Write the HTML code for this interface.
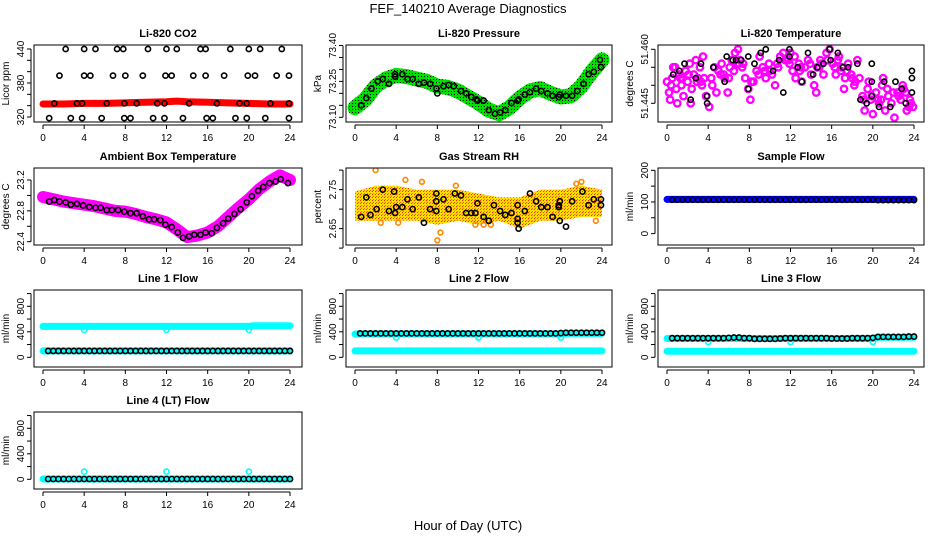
<!DOCTYPE html>
<html><head><meta charset="utf-8">
<style>
body{margin:0;background:#fff;}
svg{display:block;font-family:"Liberation Sans",Arial,sans-serif;}
</style></head>
<body>
<svg id="chart" width="936" height="540" viewBox="0 0 936 540">
<defs>
<pattern id="pGreen" width="3" height="3" patternUnits="userSpaceOnUse"><rect width="3" height="3" fill="#00e000"/><rect x="1" y="1" width="1" height="1" fill="#000"/></pattern>
<pattern id="pYellow" width="3" height="3" patternUnits="userSpaceOnUse"><rect width="3" height="3" fill="#ffdd00"/><rect x="1" y="1" width="1" height="1" fill="#ff6a00"/><rect x="0" y="2" width="1" height="1" fill="#ff3000"/></pattern>
</defs>
<text x="468" y="13" text-anchor="middle" font-size="13">FEF_140210  Average Diagnostics</text>
<text x="468" y="530" text-anchor="middle" font-size="13">Hour of Day (UTC)</text>
</svg>
<script>
// ---------- data ----------
const co2BandH=[0,2,4,6,8,10,12,13,14,16,18,20,22,24];
const co2BandV=[343,343,344,344,345,346,347,348,347,346,345,344,343,343];
const co2BlackH=[2.2,4,5.1,7.2,7.8,10.2,12,13,15.3,15.8,18.2,20,21.1,23.2,1.6,4,4.6,6.8,8,9.7,11.9,12.5,14.6,15.8,17.6,19.9,20.6,22.7,23.9,1.1,3.3,3.8,6.2,7.9,9.1,11.1,11.8,14.2,16.9,19.1,19.8,22.1,23.9,0.6,2.7,3.8,5.7,7.9,8.5,10.7,11.8,13.6,15.9,16.5,18.7,19.8,21.6,23.9];
const co2BlackV=[440,440,440,440,440,440,440,440,440,440,440,440,440,440,393,393,393,393,393,393,393,393,393,393,393,393,393,393,393,344,344,344,344,344,344,344,344,344,344,344,344,344,344,318,318,318,318,318,318,318,318,318,318,318,318,318,318,318];

const presBandH=[0,1,2,3,4,5,6,7,8,9,10,11,12,13,14,15,16,17,18,19,20,21,22,23,24];
const presBandV=[73.14,73.175,73.23,73.26,73.275,73.27,73.26,73.25,73.23,73.225,73.21,73.185,73.16,73.13,73.115,73.14,73.18,73.21,73.22,73.2,73.185,73.19,73.23,73.29,73.34];
const presBlackH=[0.6,1.1,1.6,2.2,2.7,3.3,3.9,3.9,4.6,5.1,5.6,6.2,6.7,7.3,7.9,8,8.6,9.1,9.6,10.3,10.8,11.3,11.8,11.9,12.5,13,13.6,14.1,14.6,15.2,15.8,15.9,16.5,17,17.6,18.1,18.7,19.2,19.8,19.9,20.5,21.1,21.6,22.2,22.7,23.2,23.8,23.9];
const presBlackV=[73.15,73.18,73.22,73.25,73.26,73.24,73.28,73.27,73.28,73.26,73.26,73.24,73.245,73.24,73.22,73.20,73.23,73.235,73.23,73.21,73.20,73.185,73.175,73.17,73.17,73.13,73.115,73.12,73.13,73.16,73.17,73.175,73.195,73.205,73.22,73.21,73.20,73.19,73.185,73.195,73.19,73.19,73.21,73.24,73.28,73.29,73.34,73.31];

const tempMagH=[0,0.2,0.3,0.5,0.8,0.9,1.2,1.4,1.6,1.8,2.0,2.2,2.4,2.6,2.8,3.0,3.2,3.4,3.6,3.8,4.1,4.3,4.6,4.8,5.0,5.3,5.6,5.9,6.1,6.3,6.6,6.9,7.1,7.3,7.6,7.9,8.1,8.4,8.7,9.0,9.3,9.6,9.9,10.2,10.5,10.8,11.0,11.3,11.6,11.9,12.2,12.5,12.8,13.1,13.4,13.7,14.0,14.3,14.6,14.9,15.2,15.5,15.8,16.1,16.4,16.7,17.0,17.3,17.6,17.9,18.2,18.5,18.7,19.0,19.2,19.5,19.8,20.0,20.3,20.6,20.9,21.2,21.5,21.8,22.1,22.4,22.7,23.0,23.3,23.6,23.9,0.6,1.0,2.3,3.5,6.0,8.2,12.0,14.5,17.2,19.6,21.0,22.9,1.5,5.2,7.0,9.5,11.5,13.0,15.0,16.9,18.3,20.5,22.0,23.5,0.4,1.3,2.1,2.9,4.4,5.5,6.5,7.4,8.9,10.0,10.7,11.8,12.9,13.9,14.8,15.6,16.3,17.5,18.0,19.1,19.9,20.8,21.4,22.5,23.2,23.7,3.3,6.8,12.4,16.6];
const tempMagV=[51.451,51.448,51.446,51.452,51.455,51.449,51.453,51.450,51.447,51.454,51.451,51.456,51.449,51.453,51.457,51.452,51.455,51.450,51.452,51.447,51.444,51.452,51.455,51.448,51.454,51.456,51.452,51.448,51.455,51.457,51.459,51.460,51.457,51.455,51.452,51.449,51.446,51.451,51.454,51.458,51.455,51.452,51.456,51.453,51.450,51.455,51.458,51.459,51.457,51.456,51.454,51.452,51.456,51.451,51.455,51.457,51.453,51.450,51.455,51.457,51.453,51.459,51.460,51.456,51.453,51.458,51.455,51.452,51.456,51.453,51.450,51.457,51.452,51.447,51.443,51.449,51.446,51.442,51.448,51.445,51.450,51.443,51.447,51.445,51.441,51.448,51.446,51.449,51.443,51.446,51.444,51.455,51.445,51.445,51.458,51.452,51.451,51.459,51.448,51.449,51.451,51.452,51.450,51.452,51.453,51.456,51.454,51.457,51.455,51.456,51.454,51.451,51.446,51.448,51.444,51.450,51.452,51.453,51.451,51.450,51.453,51.454,51.456,51.453,51.454,51.456,51.457,51.454,51.456,51.455,51.457,51.455,51.454,51.452,51.446,51.447,51.446,51.449,51.447,51.448,51.445,51.451,51.456,51.458,51.457];
const tempBlackH=[0.6,1.2,1.7,2.3,2.8,3.3,3.9,3.9,4.5,5.6,5.8,6.4,6.7,7.2,7.9,7.9,8.5,9.1,9.6,10.3,10.9,11.3,11.9,11.9,12.7,13.1,13.7,14.2,14.6,15.2,15.8,15.9,16.6,17.1,17.6,18.5,18.8,19.4,19.9,19.9,19.9,20.6,21.1,21.7,22.2,22.8,23.2,23.8,23.8,23.8];
const tempBlackV=[51.453,51.454,51.456,51.446,51.452,51.456,51.445,51.447,51.455,51.451,51.458,51.457,51.457,51.457,51.449,51.458,51.456,51.459,51.460,51.454,51.457,51.448,51.458,51.460,51.455,51.451,51.459,51.453,51.455,51.456,51.460,51.457,51.459,51.455,51.455,51.456,51.446,51.445,51.447,51.456,51.451,51.444,51.451,51.444,51.451,51.449,51.445,51.452,51.454,51.448];

const ambBandH=[0,1,2,3,4,5,6,7,8,9,10,11,12,13,14,15,16,17,18,19,20,21,22,23,24];
const ambBandV=[22.98,22.95,22.92,22.9,22.88,22.86,22.83,22.8,22.79,22.76,22.72,22.69,22.65,22.56,22.46,22.48,22.52,22.6,22.72,22.84,22.95,23.08,23.18,23.26,23.2];
const ambBlackH=[0.6,1.1,1.6,2.2,2.7,3.3,3.9,4.5,5.1,5.6,6.2,6.7,7.3,7.9,8.5,9.1,9.7,10.3,10.8,11.4,11.9,12.5,13.1,13.6,14.2,14.7,15.3,15.8,16.4,16.9,17.5,18.0,18.6,19.2,19.8,20.3,20.9,21.4,22.0,22.6,23.1,23.8];
const ambBlackV=[22.92,22.94,22.92,22.91,22.88,22.89,22.87,22.85,22.84,22.84,22.81,22.81,22.81,22.79,22.77,22.77,22.73,22.69,22.69,22.68,22.62,22.59,22.52,22.45,22.47,22.49,22.49,22.52,22.51,22.58,22.64,22.70,22.76,22.82,22.91,22.99,23.06,23.11,23.16,23.18,23.21,23.16];

const rhBandH=[0,2,4,6,8,10,12,14,16,18,20,22,24];
const rhBandLo=[2.67,2.67,2.67,2.67,2.66,2.67,2.66,2.67,2.65,2.67,2.67,2.68,2.68];
const rhBandHi=[2.745,2.76,2.76,2.75,2.75,2.75,2.74,2.73,2.73,2.75,2.75,2.76,2.75];
const rhOrangeH=[2,8,8.3,4.9,11.7,22,23.4,2.5,6.5,9.8,12.5,21.5,4.2,13.2];
const rhOrangeV=[2.80,2.62,2.64,2.775,2.66,2.77,2.67,2.665,2.77,2.76,2.66,2.765,2.665,2.66];
const rhBlackH=[0.6,1.1,1.5,2.1,2.7,3.3,3.8,3.9,4,4.6,5.1,5.6,6.2,6.7,7.3,7.9,7.9,7.9,8.6,9.1,9.7,10.3,10.8,11.3,11.7,11.9,12.5,13.0,13.5,14.1,14.6,15.2,15.8,15.8,15.8,15.9,16.5,17.0,17.6,18.1,18.7,19.2,19.8,19.8,19.9,19.9,20.5,21.1,22.1,22.7,23.2,23.9,23.9];
const rhBlackV=[2.68,2.73,2.685,2.70,2.75,2.695,2.745,2.69,2.705,2.705,2.725,2.70,2.73,2.665,2.70,2.74,2.72,2.695,2.725,2.70,2.74,2.735,2.69,2.69,2.69,2.715,2.68,2.67,2.71,2.695,2.685,2.69,2.675,2.665,2.71,2.65,2.695,2.74,2.72,2.705,2.705,2.68,2.705,2.71,2.72,2.67,2.655,2.72,2.745,2.71,2.725,2.725,2.71];

const sfBandH=[0,24];
const sfBandV=[108,108];
const halfHours=[0.5,1,1.5,2,2.5,3,3.5,4,4.5,5,5.5,6,6.5,7,7.5,8,8.5,9,9.5,10,10.5,11,11.5,12,12.5,13,13.5,14,14.5,15,15.5,16,16.5,17,17.5,18,18.5,19,19.5,20,20.5,21,21.5,22,22.5,23,23.5,24];
const sfBlackV=[107,107,107,107,107,107,107,107,107,107,107,107,107,107,107,107,107,107,107,107,107,107,107,107,107,107,107,107,107,107,107,107,107,107,107,107,107,107,107,107,106,106,106,106,106,106,106,106];

const l1BandH=[0,20,20.5,24];
const l1BandV=[485,485,495,495];
const l1LowV=[100,100];
const l1DipH=[4,12,20];
const l1DipV=[430,430,430];
const l1BlackV=[100,100,100,100,100,100,100,100,100,100,100,100,100,100,100,100,100,100,100,100,100,100,100,100,100,100,100,100,100,100,100,100,100,100,100,100,100,100,100,100,100,100,100,100,100,100,100,100];

const l2BandH=[0,20,20.5,24];
const l2BandV=[365,365,375,375];
const l2LowV=[100,100];
const l2DipH=[4,12,20];
const l2DipV=[310,310,310];
const l2BlackV=[375,375,375,375,375,375,375,375,375,375,375,375,375,375,375,375,375,375,375,375,375,375,375,375,375,375,375,375,375,375,375,375,375,375,375,375,375,375,375,380,385,385,385,385,385,385,385,385];

const l3BandH=[0,20,20.5,24];
const l3BandV=[295,295,315,315];
const l3LowV=[95,95];
const l3DipH=[4,12,20];
const l3DipV=[240,240,240];
const l3BlackV=[300,300,300,300,300,300,300,300,300,300,300,305,310,310,300,300,290,290,290,290,290,295,300,300,300,300,300,300,300,300,300,295,295,295,295,300,300,300,300,305,320,320,320,320,320,320,325,325];

const l4BandH=[0,24];
const l4BandV=[5,5];
const l4DipH=[4,12,20];
const l4DipV=[120,120,120];
const l4BlackV=[5,5,5,5,5,5,5,5,5,5,5,5,5,5,5,5,5,5,5,5,5,5,5,5,5,5,5,5,5,5,5,5,5,5,5,5,5,5,5,5,5,5,5,5,5,5,5,5];

const xTicks=[0,4,8,12,16,20,24];

// ---------- drawing ----------
const NS='http://www.w3.org/2000/svg';
const svg=document.getElementById('chart');
const L=[34,346,658],R=[302,612,924],X0=[43,355,667],X24=[290,602,914];
const T=[45,168,290,412],H=77;
function mk(tag,attrs,parent){const e=document.createElementNS(NS,tag);for(const k in attrs)e.setAttribute(k,attrs[k]);(parent||svg).appendChild(e);return e;}

function panel(cfg){
  const g=mk('g',{});
  
  
  const c=cfg.col,top=T[cfg.row];
  const sx=h=>X0[c]+(X24[c]-X0[c])*h/24;
  const sy=v=>top+cfg.m[1]+(v-cfg.m[0])*(cfg.m[3]-cfg.m[1])/(cfg.m[2]-cfg.m[0]);
  const bot=top+H;
  const clipId='clip-'+cfg.name;
  const cp=mk('clipPath',{id:clipId},g);mk('rect',{x:L[c],y:top,width:R[c]-L[c],height:H},cp);
  const plot=mk('g',{'clip-path':'url(#'+clipId+')'},g);
  
  
  cfg.draw(plot,sx,sy);
  const box=mk('rect',{x:L[c],y:top,width:R[c]-L[c],height:H,fill:'none',stroke:'#000','stroke-width':1},g);
  
  
  const xa=mk('g',{},g);
  
  
  const ay=bot+3;
  mk('line',{x1:sx(0),x2:sx(24),y1:ay,y2:ay,stroke:'#000'},xa);
  xTicks.forEach(t=>{mk('line',{x1:sx(t),x2:sx(t),y1:ay,y2:ay+4,stroke:'#000'},xa);
    const tx=mk('text',{x:sx(t),y:bot+19,'text-anchor':'middle','font-size':10},xa);tx.textContent=t;});
  const ya=mk('g',{},g);
  
  
  const axx=L[c]-3;
  mk('line',{x1:axx,x2:axx,y1:sy(cfg.yt[0]),y2:sy(cfg.yt[cfg.yt.length-1]),stroke:'#000'},ya);
  cfg.yt.forEach(v=>mk('line',{x1:axx-4,x2:axx,y1:sy(v),y2:sy(v),stroke:'#000'},ya));
  cfg.yl.forEach(v=>{const yy=sy(v);const tx=mk('text',{x:axx-7,y:yy,'text-anchor':'middle','font-size':10,transform:`rotate(-90 ${axx-7} ${yy})`},ya);tx.textContent=cfg.fmt?cfg.fmt(v):v;});
  const yt=mk('text',{x:L[c]-25,y:top+H/2,'text-anchor':'middle','font-size':10,transform:`rotate(-90 ${L[c]-25} ${top+H/2})`},g);
  yt.textContent=cfg.ylab;
  
  
  const tt=mk('text',{x:(L[c]+R[c])/2,y:top-8,'text-anchor':'middle','font-size':11,'font-weight':'bold'},g);
  tt.textContent=cfg.title;
  
  
}
function band(p,sx,sy,hs,vs,col,w,name){
  const pl=mk('polyline',{points:hs.map((h,i)=>sx(h)+','+sy(vs[i])).join(' '),fill:'none',stroke:col,'stroke-width':w,'stroke-linejoin':'round','stroke-linecap':'round'},p);
  
  
}
function area(p,sx,sy,hs,lo,hi,fill,name){
  const pts=hs.map((h,i)=>sx(h)+','+sy(hi[i])).concat(hs.slice().reverse().map((h,i)=>sx(h)+','+sy(lo[hs.length-1-i])));
  const pg=mk('polygon',{points:pts.join(' '),fill:fill},p);
  
  
}
function pts(p,sx,sy,hs,vs,col,name,r,sw){
  hs.forEach((h,i)=>{const ci=mk('circle',{cx:sx(h),cy:sy(vs[i]),r:r||2.6,fill:'none',stroke:col,'stroke-width':sw||1.6},p);
    
    });
}
function flowDraw(bh,bv,lowV,dh,dv,blackV){
  return (p,sx,sy)=>{
    if(lowV) band(p,sx,sy,[0,24],lowV,'#00ffff',7,'low-flow-band');
    band(p,sx,sy,bh,bv,'#00ffff',7,'flow-band');
    pts(p,sx,sy,dh,dv,'#00ffff','flow-dip-point');
    pts(p,sx,sy,[0.1],[lowV?lowV[0]:bv[0]],'#00ffff','flow-start-point');
    pts(p,sx,sy,halfHours,blackV,'#000','flow-average-point');
  };
}
const flowTicks=[0,200,400,600,800,1000],flowLabels=[0,400,800];

panel({name:'co2',col:0,row:0,title:'Li-820 CO2',ylab:'Licor ppm',m:[320,72,440,4],yt:[320,340,360,380,400,420,440],yl:[320,380,440],
  draw:(p,sx,sy)=>{band(p,sx,sy,co2BandH,co2BandV,'#ff0000',7,'co2-band');pts(p,sx,sy,co2BlackH,co2BlackV,'#000','co2-average-point');}});
panel({name:'pressure',col:1,row:0,title:'Li-820 Pressure',ylab:'kPa',m:[73.10,72.3,73.40,0.5],yt:[73.10,73.15,73.20,73.25,73.30,73.35,73.40],yl:[73.10,73.25,73.40],fmt:v=>v.toFixed(2),
  draw:(p,sx,sy)=>{band(p,sx,sy,presBandH,presBandV,'url(#pGreen)',15,'pressure-band');pts(p,sx,sy,presBlackH,presBlackV,'#000','pressure-average-point');}});
panel({name:'temperature',col:2,row:0,title:'Li-820 Temperature',ylab:'degrees C',m:[51.460,4.3,51.445,58.3],yt:[51.445,51.450,51.455,51.460],yl:[51.445,51.460],fmt:v=>v.toFixed(3),
  draw:(p,sx,sy)=>{pts(p,sx,sy,tempMagH,tempMagV,'#ff00ff','temperature-point',3.2,2.4);pts(p,sx,sy,tempBlackH,tempBlackV,'#000','temperature-average-point');}});
panel({name:'ambient-box-temp',col:0,row:1,title:'Ambient Box Temperature',ylab:'degrees C',m:[22.4,73.7,23.2,12],yt:[22.4,22.6,22.8,23.0,23.2],yl:[22.4,22.8,23.2],fmt:v=>v.toFixed(1),
  draw:(p,sx,sy)=>{band(p,sx,sy,ambBandH,ambBandV,'#ff00ff',12,'ambient-band');pts(p,sx,sy,ambBlackH,ambBlackV,'#000','ambient-average-point');}});
panel({name:'gas-stream-rh',col:1,row:1,title:'Gas Stream RH',ylab:'percent',m:[2.65,60.6,2.75,21.6],yt:[2.60,2.65,2.70,2.75,2.80],yl:[2.65,2.75],fmt:v=>v.toFixed(2),
  draw:(p,sx,sy)=>{area(p,sx,sy,rhBandH,rhBandLo,rhBandHi,'url(#pYellow)','rh-band');pts(p,sx,sy,rhOrangeH,rhOrangeV,'#ff8800','rh-point',2.4);pts(p,sx,sy,rhBlackH,rhBlackV,'#000','rh-average-point');}});
panel({name:'sample-flow',col:2,row:1,title:'Sample Flow',ylab:'ml/min',m:[0,65.6,200,2.3],yt:[0,50,100,150,200],yl:[0,100,200],
  draw:(p,sx,sy)=>{band(p,sx,sy,sfBandH,sfBandV,'#0000ff',7,'sample-flow-band');pts(p,sx,sy,halfHours,sfBlackV,'#000','sample-flow-average-point');}});
panel({name:'line1-flow',col:0,row:2,title:'Line 1 Flow',ylab:'ml/min',m:[0,67.3,800,16.3],yt:flowTicks,yl:flowLabels,draw:flowDraw(l1BandH,l1BandV,l1LowV,l1DipH,l1DipV,l1BlackV)});
panel({name:'line2-flow',col:1,row:2,title:'Line 2 Flow',ylab:'ml/min',m:[0,67.3,800,16.3],yt:flowTicks,yl:flowLabels,draw:flowDraw(l2BandH,l2BandV,l2LowV,l2DipH,l2DipV,l2BlackV)});
panel({name:'line3-flow',col:2,row:2,title:'Line 3 Flow',ylab:'ml/min',m:[0,67.3,800,16.3],yt:flowTicks,yl:flowLabels,draw:flowDraw(l3BandH,l3BandV,l3LowV,l3DipH,l3DipV,l3BlackV)});
panel({name:'line4-flow',col:0,row:3,title:'Line 4 (LT) Flow',ylab:'ml/min',m:[0,67.3,800,16.3],yt:flowTicks,yl:flowLabels,draw:flowDraw(l4BandH,l4BandV,null,l4DipH,l4DipV,l4BlackV)});
</script>
</body></html>
